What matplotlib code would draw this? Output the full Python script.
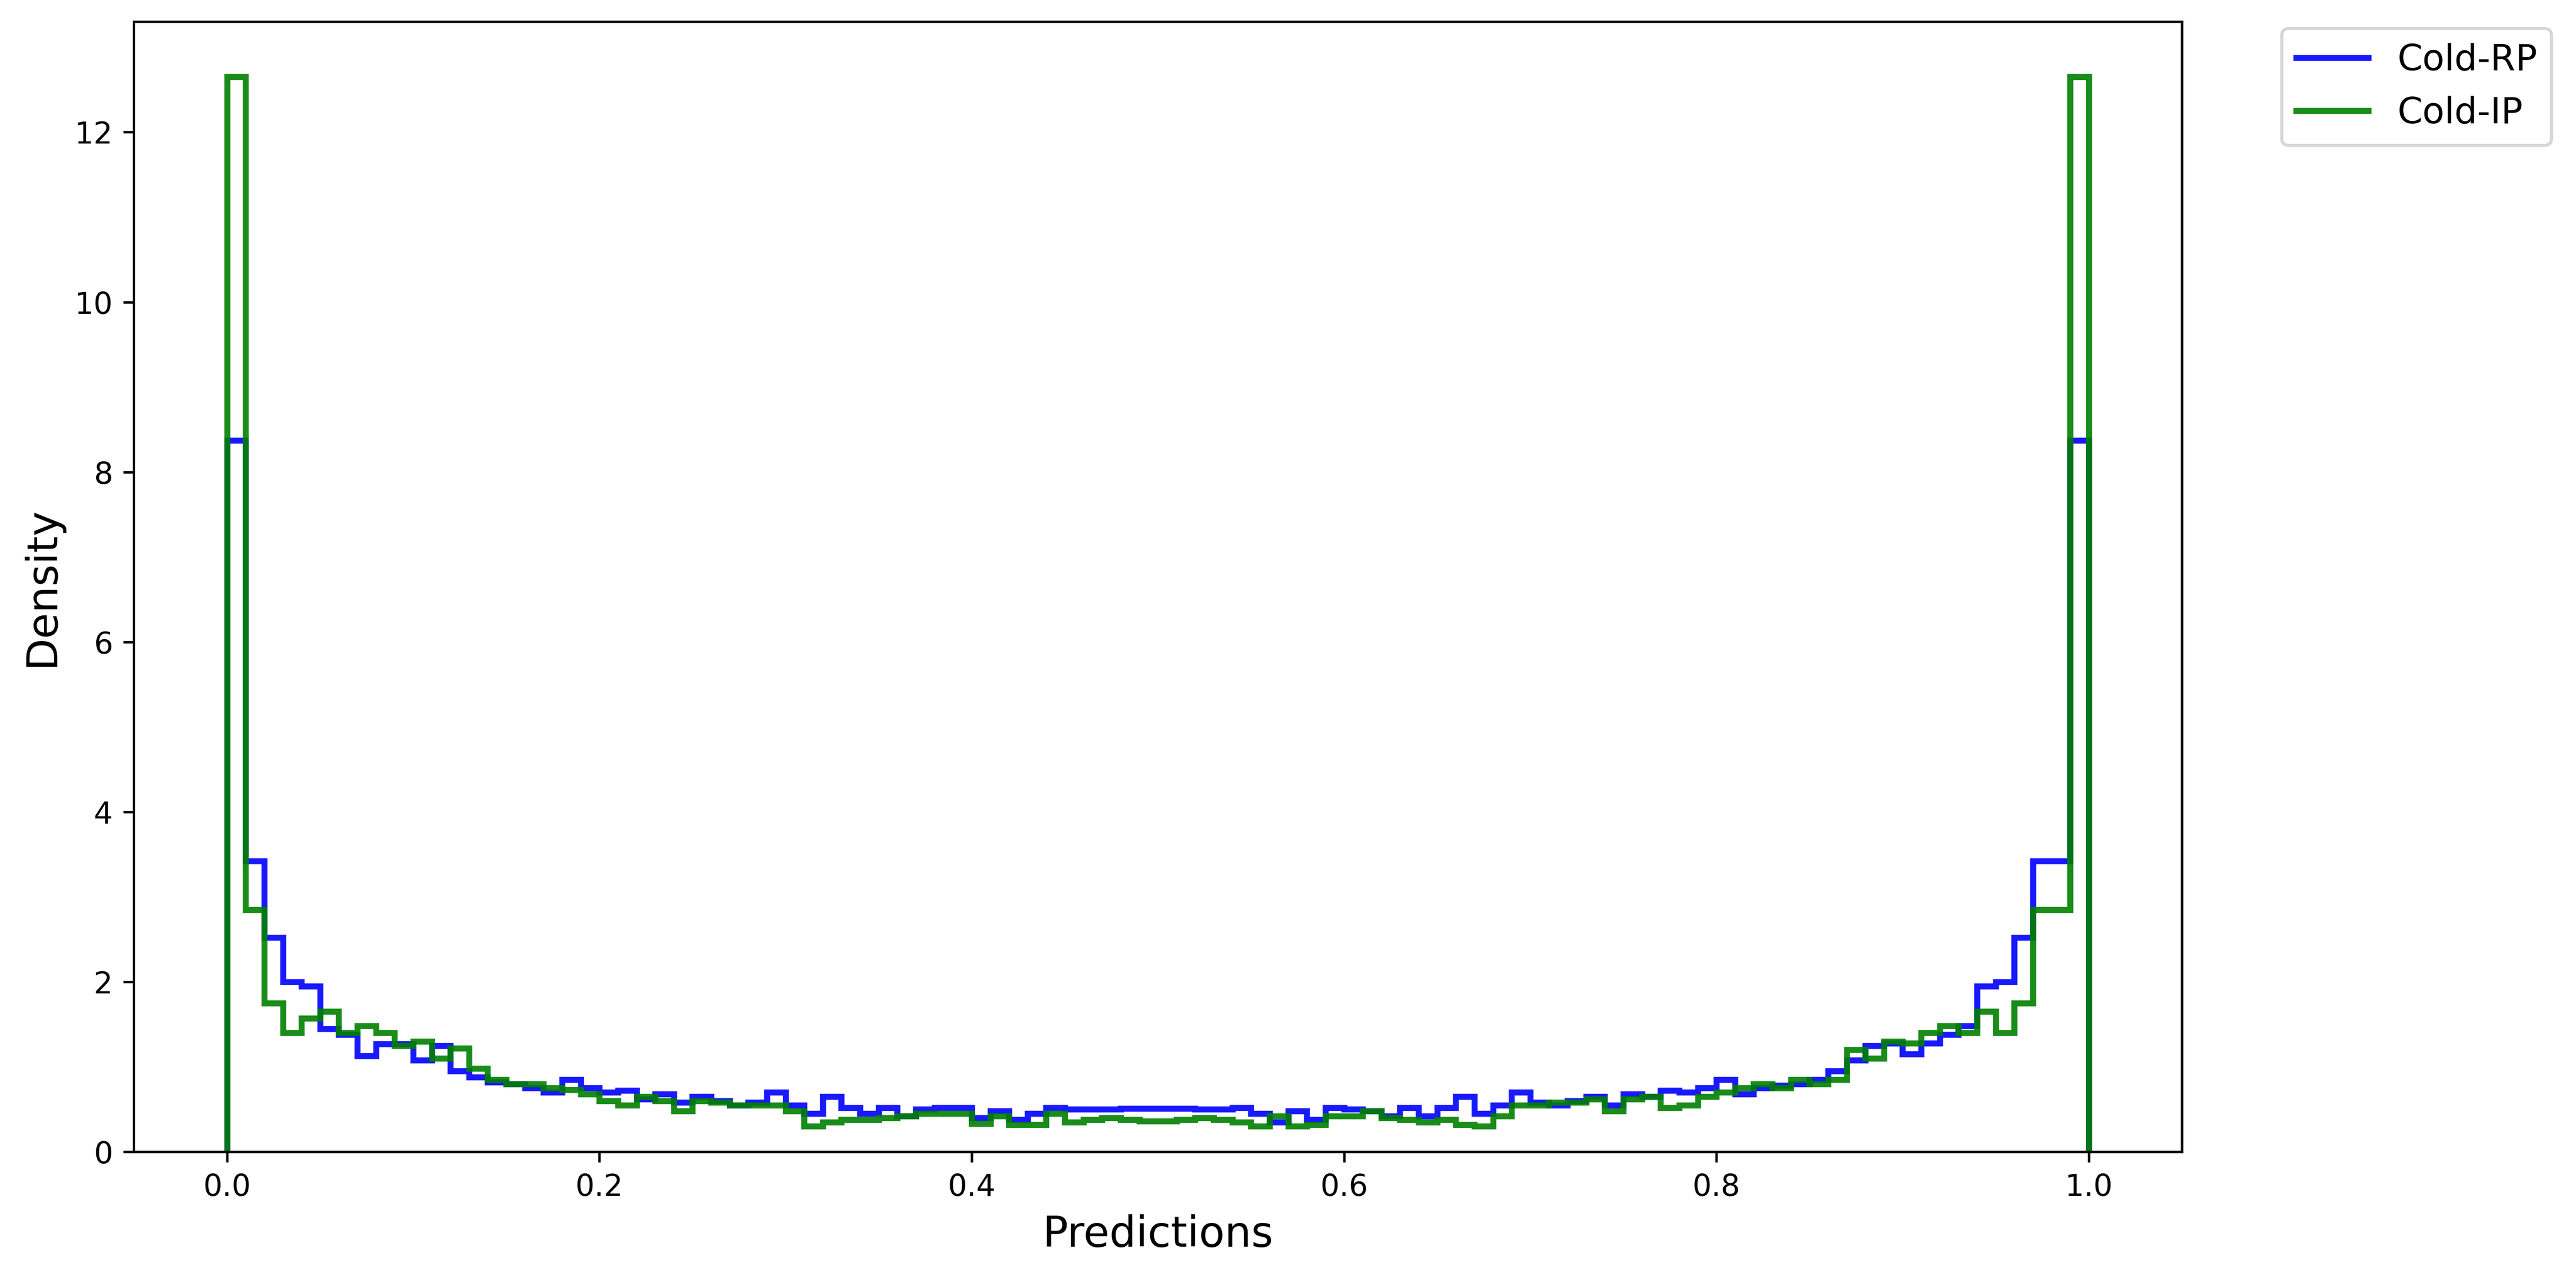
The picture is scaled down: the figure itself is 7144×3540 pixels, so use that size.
import numpy as np
import matplotlib.pyplot as plt

bin_edges = np.linspace(0.0, 1.0, 101)

cold_rp = [
    8.37, 3.42, 2.52, 2.00, 1.95, 1.45, 1.38, 1.13, 1.27, 1.27,
    1.08, 1.25, 0.95, 0.88, 0.82, 0.80, 0.75, 0.70, 0.85, 0.75,
    0.70, 0.72, 0.62, 0.68, 0.58, 0.65, 0.60, 0.55, 0.58, 0.70,
    0.55, 0.45, 0.65, 0.52, 0.45, 0.52, 0.42, 0.50, 0.52, 0.52,
    0.40, 0.48, 0.38, 0.45, 0.52, 0.50, 0.50, 0.50, 0.51, 0.51,
    0.51, 0.51, 0.50, 0.50, 0.52, 0.45, 0.35, 0.48, 0.38, 0.52,
    0.50, 0.48, 0.42, 0.52, 0.42, 0.52, 0.65, 0.45, 0.55, 0.70,
    0.58, 0.55, 0.60, 0.65, 0.55, 0.68, 0.65, 0.72, 0.70, 0.75,
    0.85, 0.68, 0.75, 0.78, 0.80, 0.85, 0.95, 1.08, 1.25, 1.28,
    1.15, 1.28, 1.38, 1.48, 1.95, 2.00, 2.52, 3.42, 8.37, 8.37,
]
cold_ip = [
    12.65, 2.85, 1.75, 1.40, 1.57, 1.65, 1.40, 1.48, 1.40, 1.25,
    1.30, 1.10, 1.22, 0.98, 0.85, 0.80, 0.80, 0.75, 0.73, 0.68,
    0.60, 0.55, 0.65, 0.60, 0.48, 0.60, 0.58, 0.55, 0.55, 0.55,
    0.48, 0.30, 0.35, 0.38, 0.38, 0.40, 0.42, 0.45, 0.45, 0.45,
    0.33, 0.42, 0.32, 0.32, 0.45, 0.35, 0.38, 0.40, 0.38, 0.36,
    0.36, 0.38, 0.40, 0.38, 0.35, 0.30, 0.42, 0.30, 0.32, 0.42,
    0.42, 0.48, 0.40, 0.38, 0.35, 0.38, 0.32, 0.30, 0.42, 0.55,
    0.55, 0.58, 0.58, 0.62, 0.48, 0.62, 0.65, 0.52, 0.55, 0.65,
    0.70, 0.75, 0.80, 0.75, 0.85, 0.80, 0.85, 1.20, 1.10, 1.30,
    1.28, 1.40, 1.48, 1.40, 1.65, 1.40, 1.75, 2.85, 12.65, 12.65,
]
# last bin holds the tall right-hand spike; the one before it is the 3.42 / 2.85 step
cold_rp = cold_rp[:98] + [3.42, 8.37]
cold_ip = cold_ip[:98] + [2.85, 12.65]
cold_rp[96] = 2.52
cold_ip[96] = 1.75

fig = plt.figure(figsize=(7144 / 600, 3540 / 600))
ax = fig.add_axes([0.052, 0.098, 0.795, 0.885])
ax.stairs(cold_rp, bin_edges, color="blue", alpha=0.9, linewidth=2, label="Cold-RP")
ax.stairs(cold_ip, bin_edges, color="green", alpha=0.9, linewidth=2, label="Cold-IP")

ax.set_xlim(-0.05, 1.05)
ax.set_ylim(0, 13.3)
ax.set_xlabel("Predictions", fontsize=14)
ax.set_ylabel("Density", fontsize=14)
ax.legend(loc="upper left", bbox_to_anchor=(1.04, 1.01), fontsize=12)

fig.savefig("out.png", dpi=600)
plt.close(fig)
